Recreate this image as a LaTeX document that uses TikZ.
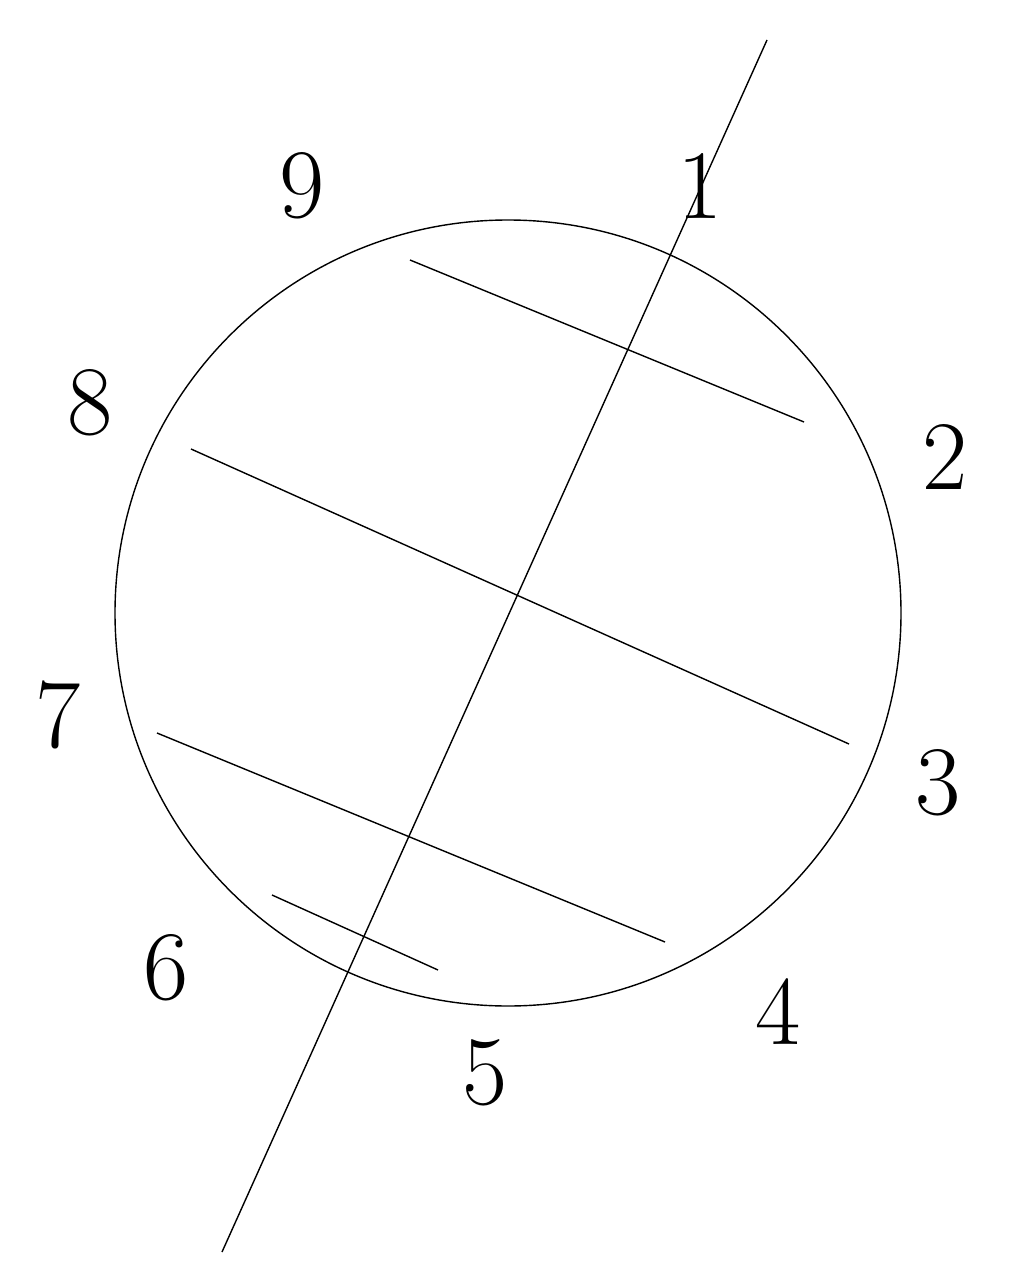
\documentclass[tikz,border=0pt]{standalone}
\usepackage{amsmath}
\usepackage{amssymb}
\usepackage{color}
\usepackage{tikz}

\tikzset{
	digit/.style={color=black,font=\fontsize{56}{58}\selectfont},
	stroke/.style={color=black,line width=0.8pt}
}

\begin{document}
\begin{tikzpicture}[x=0.02cm,y=-0.02cm]
		
		\useasboundingbox (0,0) rectangle (1013,1280);
		
		%------------------------------------------------------
		\coordinate (centre) at (508,613);
		\draw[stroke] (centre) circle (393);
		%------------------------------------------------------


		%------------------------------------------------------
		\coordinate (axisTop) at (767,40);
		\coordinate (axisBot) at (222,1252);
		\draw[stroke] (axisTop) -- (axisBot);
		%------------------------------------------------------
		

		%------------------------------------------------------
		\coordinate (chordAa) at (410,260);
		\coordinate (chordAb) at (804,422);
		\draw[stroke] (chordAa) -- (chordAb);
		
		\coordinate (chordBa) at (191,449);
		\coordinate (chordBb) at (849,744);
		\draw[stroke] (chordBa) -- (chordBb);
		
		\coordinate (chordCa) at (157,733);
		\coordinate (chordCb) at (665,942);
		\draw[stroke] (chordCa) -- (chordCb);
		
		\coordinate (chordDa) at (272,895);
		\coordinate (chordDb) at (438,970);
		\draw[stroke] (chordDa) -- (chordDb);
		%------------------------------------------------------
		

		%------------------------------------------------------
		\node[digit] (one) at (700,186) {1};
		\node[digit] (two) at (945,457) {2};
		\node[digit] (three) at (938,783) {3};
		\node[digit] (four) at (778,1012) {4};
		\node[digit] (five) at (485,1073) {5};
		\node[digit] (six) at (166,968) {6};
		\node[digit] (seven) at (58,715) {7};
		\node[digit] (eight) at (90,403) {8};
		\node[digit] (nine) at (302,186) {9};
		%------------------------------------------------------
		
	\end{tikzpicture}
\end{document}
